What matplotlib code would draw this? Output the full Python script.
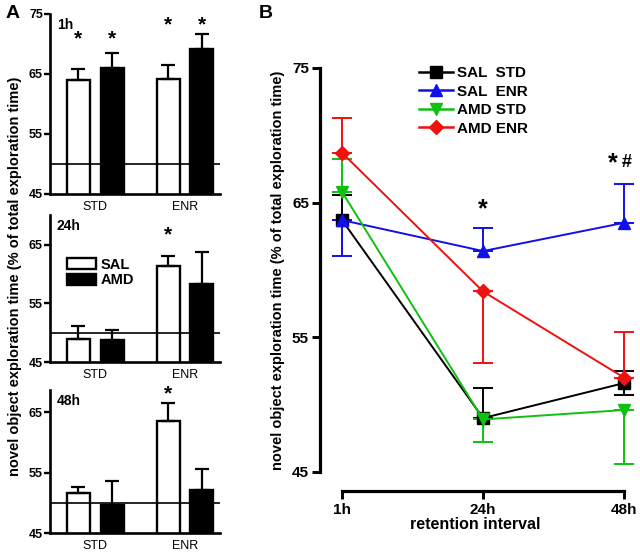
"""
Novel object exploration: bar panels by retention interval (A) and
time course of the four groups (B).
"""
import matplotlib
matplotlib.use("Agg")
import matplotlib.pyplot as plt
from matplotlib.patches import Patch
from matplotlib.lines import Line2D
import numpy as np

plt.rcParams["font.family"] = ["Liberation Sans", "DejaVu Sans"]

# PANEL A DATA (bar means and SEM, SAL vs AMD within STD / ENR housing)
groups = ["STD", "ENR"]
intervals = ["1h", "24h", "48h"]
sal_mean = {"1h": [64.0, 64.2], "24h": [49.0, 61.3], "48h": [51.6, 63.5]}
sal_sem = {"1h": [1.8, 2.3], "24h": [2.2, 1.7], "48h": [1.0, 3.0]}
amd_mean = {"1h": [66.0, 69.2], "24h": [48.7, 58.3], "48h": [49.6, 52.1]}
amd_sem = {"1h": [2.5, 2.5], "24h": [1.7, 5.4], "48h": [4.0, 3.5]}
a_ylims = {"1h": (45, 75), "24h": (45, 70), "48h": (45, 68.6)}
a_yticks = {"1h": [45, 55, 65, 75], "24h": [45, 55, 65], "48h": [45, 55, 65]}
a_stars = {"1h": [(0, -1, 70.8), (0, 1, 70.8), (1, -1, 73.1), (1, 1, 73.1)],
           "24h": [(1, -1, 66.6)],
           "48h": [(1, -1, 68.0)]}
chance = 50

# PANEL B DATA (line means with one-sided error bars as drawn)
ret_labels = ["1h", "24h", "48h"]
series = ["SAL  STD", "SAL  ENR", "AMD STD", "AMD ENR"]
b_mean = {
    "SAL  STD": [63.7, 49.0, 51.6],
    "SAL  ENR": [63.7, 61.4, 63.5],
    "AMD STD": [65.8, 48.9, 49.6],
    "AMD ENR": [68.7, 58.4, 52.0],
}
b_err_lo = {
    "SAL  STD": [0, 0, 0.9],
    "SAL  ENR": [2.7, 0, 0],
    "AMD STD": [0, 1.7, 4.0],
    "AMD ENR": [0, 5.3, 0],
}
b_err_hi = {
    "SAL  STD": [1.9, 2.2, 0.9],
    "SAL  ENR": [0, 1.7, 2.9],
    "AMD STD": [2.4, 0, 0],
    "AMD ENR": [2.6, 0, 3.4],
}
b_style = {
    "SAL  STD": ("black", "s"),
    "SAL  ENR": ("#1010e8", "^"),
    "AMD STD": ("#10c010", "v"),
    "AMD ENR": ("#f01010", "D"),
}

fig = plt.figure(figsize=(6.4, 5.52), dpi=100)

# panel A: three stacked bar axes
a_boxes = {"1h": [0.078, 0.649, 0.266, 0.326],
           "24h": [0.078, 0.344, 0.266, 0.266],
           "48h": [0.078, 0.034, 0.266, 0.259]}
bw = 0.256
off = 0.187
x = np.arange(len(groups))
for iv in intervals:
    ax = fig.add_axes(a_boxes[iv])
    ax.bar(x - off, sal_mean[iv], bw, bottom=0, color="white", edgecolor="black",
           linewidth=1.7, zorder=2)
    ax.bar(x + off, amd_mean[iv], bw, bottom=0, color="black", edgecolor="black",
           linewidth=1.7, zorder=2)
    ax.errorbar(x - off, sal_mean[iv], yerr=[np.zeros(2), sal_sem[iv]], fmt="none",
                ecolor="black", elinewidth=1.6, capsize=5, capthick=1.6, zorder=3)
    ax.errorbar(x + off, amd_mean[iv], yerr=[np.zeros(2), amd_sem[iv]], fmt="none",
                ecolor="black", elinewidth=1.6, capsize=5, capthick=1.6, zorder=3)
    ax.axhline(chance, color="black", linewidth=1.2, zorder=4)
    for g, side, yy in a_stars[iv]:
        ax.text(g + side * off, yy, "*", ha="center", va="center", fontsize=15,
                fontweight="bold")
    ax.text(0.04, 0.975, iv, transform=ax.transAxes, ha="left", va="top",
            fontsize=10, fontweight="bold")
    ax.set_xlim(-0.504, 1.39)
    ax.set_ylim(*a_ylims[iv])
    ax.set_yticks(a_yticks[iv])
    ax.set_xticks(x)
    ax.set_xticklabels(groups, fontsize=9)
    ax.tick_params(axis="x", length=0, pad=5)
    ax.tick_params(axis="y", length=4, width=1.7, labelsize=9, pad=1)
    for lab in ax.get_yticklabels():
        lab.set_fontweight("bold")
    for s in ["top", "right"]:
        ax.spines[s].set_visible(False)
    for s in ["left", "bottom"]:
        ax.spines[s].set_linewidth(1.9)
    if iv == "24h":
        ax.legend(handles=[Patch(facecolor="white", edgecolor="black", linewidth=1.7, label="SAL"),
                           Patch(facecolor="black", edgecolor="black", linewidth=1.7, label="AMD")],
                  loc="upper left", bbox_to_anchor=(0.1, 0.71), frameon=False,
                  prop={"weight": "bold", "size": 10.5}, handlelength=2.0, handleheight=0.8,
                  handletextpad=0.3, labelspacing=0.1, borderaxespad=0, borderpad=0)

fig.text(0.023, 0.5, "novel object exploration time (% of total exploration time)",
         rotation=90, ha="center", va="center", fontsize=10.5, fontweight="bold")
fig.text(0.008, 0.975, "A", fontsize=14, fontweight="bold", va="center")
fig.text(0.405, 0.975, "B", fontsize=14, fontweight="bold", va="center")

# panel B: time course
axb = fig.add_axes([0.5, 0.145, 0.484, 0.732])
xr = np.arange(len(ret_labels))
handles = []
for name in series:
    col, mk = b_style[name]
    ms = 8.5 if mk != "D" else 7.5
    axb.errorbar(xr, b_mean[name], yerr=[b_err_lo[name], b_err_hi[name]], color=col,
                 marker=mk, markersize=ms, linewidth=1.4,
                 elinewidth=1.4, capsize=7, capthick=1.4, clip_on=False)
    handles.append(Line2D([], [], color=col, marker=mk, markersize=ms,
                          linewidth=1.8, label=name))
axb.text(1, 64.5, "*", ha="center", va="center", fontsize=18, fontweight="bold")
axb.text(1.92, 67.9, "*", ha="center", va="center", fontsize=18, fontweight="bold")
axb.text(2.02, 68.0, "#", ha="center", va="center", fontsize=13, fontweight="bold")
axb.set_xlim(-0.156, 2.04)
axb.set_ylim(45, 75)
axb.set_yticks([45, 55, 65, 75])
axb.set_xticks(xr)
axb.set_xticklabels(ret_labels)
for s in ["top", "right"]:
    axb.spines[s].set_visible(False)
axb.spines["left"].set_linewidth(2.3)
axb.spines["bottom"].set_linewidth(2.3)
axb.spines["bottom"].set_position(("outward", 14))
axb.spines["bottom"].set_bounds(0, 2)
axb.tick_params(axis="both", length=6, width=2.1, labelsize=11, pad=2)
for lab in axb.get_xticklabels() + axb.get_yticklabels():
    lab.set_fontweight("bold")
axb.set_xlabel("retention interval", fontsize=11.5, fontweight="bold", labelpad=0)
axb.set_ylabel("novel object exploration time (% of total exploration time)",
               fontsize=10.5, fontweight="bold", labelpad=5)
axb.legend(handles=handles, loc="upper left", bbox_to_anchor=(0.3, 1.02), frameon=False,
           prop={"weight": "bold", "size": 11}, handlelength=2.2,
           handletextpad=0.3, labelspacing=0.3, borderaxespad=0)

fig.savefig("out.png", dpi=100)
